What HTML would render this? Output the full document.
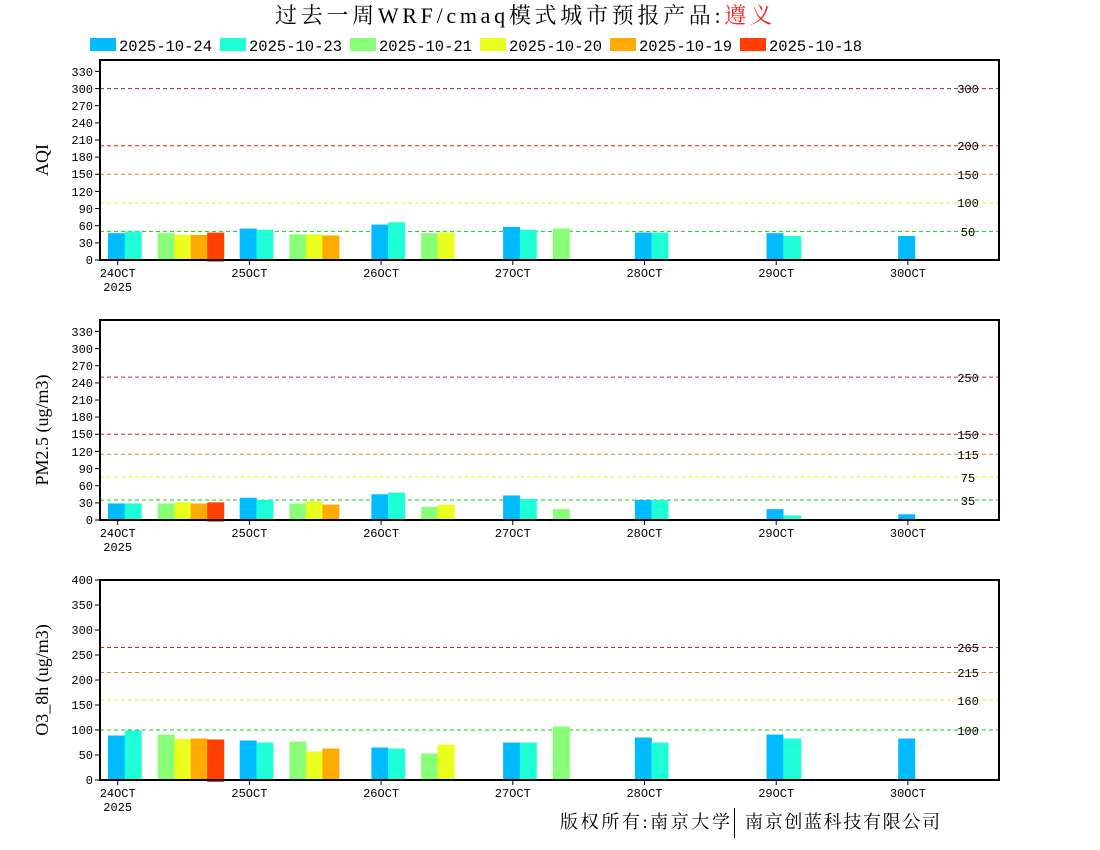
<!DOCTYPE html>
<html><head><meta charset="utf-8"><style>
body{margin:0;background:#fff}
svg{display:block}
.t{font-family:"Liberation Mono",monospace;font-size:12px;fill:#000}
.yl{font-family:"Liberation Serif","Noto Serif CJK SC",serif;font-size:18px;fill:#000}
.b{fill:#00bbff}.c{fill:#1effd8}.g{fill:#88ff77}.y{fill:#eaff1e}.o{fill:#ffaa00}.r{fill:#ff4000}
</style></head><body>
<svg width="1100" height="850" viewBox="0 0 1100 850" xmlns="http://www.w3.org/2000/svg">
<rect width="1100" height="850" fill="#fff"/>
<text x="275" y="23" font-family="Liberation Serif,'Noto Serif CJK SC',serif" font-size="22" fill="#000" textLength="497" lengthAdjust="spacing">过去一周WRF/cmaq模式城市预报产品:<tspan fill="#ff2020">遵义</tspan></text>
<!-- legend -->
<g class="t" style="font-size:15.5px">
<rect x="90" y="38" width="26" height="13" class="b"/><text x="119" y="51">2025-10-24</text>
<rect x="220" y="38" width="26" height="13" class="c"/><text x="249" y="51">2025-10-23</text>
<rect x="350" y="38" width="26" height="13" class="g"/><text x="379" y="51">2025-10-21</text>
<rect x="480" y="38" width="26" height="13" class="y"/><text x="509" y="51">2025-10-20</text>
<rect x="610" y="38" width="26" height="13" class="o"/><text x="639" y="51">2025-10-19</text>
<rect x="740" y="38" width="26" height="13" class="r"/><text x="769" y="51">2025-10-18</text>
</g>

<!-- PANEL 1 -->
<g stroke-width="1" stroke-dasharray="4,3">
<line x1="100" x2="1000" y1="88.6" y2="88.6" stroke="#c0105a"/>
<line x1="100" x2="1000" y1="145.7" y2="145.7" stroke="#ff1010"/>
<line x1="100" x2="1000" y1="174.3" y2="174.3" stroke="#f08020"/>
<line x1="100" x2="1000" y1="202.9" y2="202.9" stroke="#f0f020"/>
<line x1="100" x2="1000" y1="231.4" y2="231.4" stroke="#10d010"/>
</g>
<g transform="translate(0,260) scale(1,-0.5714)">
<rect x="108" width="17" height="47" class="b"/><rect x="124.7" width="17" height="50" class="c"/>
<rect x="157.7" width="17" height="47" class="g"/><rect x="174.2" width="17" height="44" class="y"/><rect x="190.7" width="17" height="44" class="o"/><rect x="207.2" y="-3" width="17" height="51" class="r"/>
<rect x="239.7" width="17" height="55" class="b"/><rect x="256.4" width="17" height="53" class="c"/>
<rect x="289.4" width="17" height="45" class="g"/><rect x="305.9" width="17" height="45" class="y"/><rect x="322.4" width="17" height="43" class="o"/>
<rect x="371.4" width="17" height="62" class="b"/><rect x="388.1" width="17" height="66" class="c"/>
<rect x="421.1" width="17" height="47" class="g"/><rect x="437.6" width="17" height="48" class="y"/>
<rect x="503.1" width="17" height="58" class="b"/><rect x="519.8" width="17" height="53" class="c"/>
<rect x="552.8" width="17" height="55" class="g"/>
<rect x="634.8" width="17" height="48" class="b"/><rect x="651.5" width="17" height="48" class="c"/>
<rect x="766.5" width="17" height="47" class="b"/><rect x="783.2" width="18" height="42" class="c"/>
<rect x="898.2" width="17" height="42" class="b"/>
</g>
<g class="t" text-anchor="middle">
<text x="968" y="93">300</text><text x="968" y="150">200</text><text x="968" y="179">150</text><text x="968" y="207">100</text><text x="968" y="236">50</text>
</g>
<rect x="100" y="60" width="899" height="200" fill="none" stroke="#000" stroke-width="2"/>
<g transform="translate(0,260)" class="t" text-anchor="end">
<g stroke="#000"><line x1="95" x2="100" y1="0" y2="0"/><line x1="95" x2="100" y1="-17.1" y2="-17.1"/><line x1="95" x2="100" y1="-34.3" y2="-34.3"/><line x1="95" x2="100" y1="-51.4" y2="-51.4"/><line x1="95" x2="100" y1="-68.6" y2="-68.6"/><line x1="95" x2="100" y1="-85.7" y2="-85.7"/><line x1="95" x2="100" y1="-102.9" y2="-102.9"/><line x1="95" x2="100" y1="-120" y2="-120"/><line x1="95" x2="100" y1="-137.1" y2="-137.1"/><line x1="95" x2="100" y1="-154.3" y2="-154.3"/><line x1="95" x2="100" y1="-171.4" y2="-171.4"/><line x1="95" x2="100" y1="-188.6" y2="-188.6"/></g>
<text x="93" y="4">0</text><text x="93" y="-13">30</text><text x="93" y="-30">60</text><text x="93" y="-47">90</text><text x="93" y="-64">120</text><text x="93" y="-82">150</text><text x="93" y="-99">180</text><text x="93" y="-116">210</text><text x="93" y="-133">240</text><text x="93" y="-150">270</text><text x="93" y="-167">300</text><text x="93" y="-184">330</text>
</g>
<g stroke="#000"><line x1="117.7" x2="117.7" y1="260" y2="265"/><line x1="249.4" x2="249.4" y1="260" y2="265"/><line x1="381.1" x2="381.1" y1="260" y2="265"/><line x1="512.8" x2="512.8" y1="260" y2="265"/><line x1="644.5" x2="644.5" y1="260" y2="265"/><line x1="776.2" x2="776.2" y1="260" y2="265"/><line x1="907.9" x2="907.9" y1="260" y2="265"/></g>
<g class="t" text-anchor="middle">
<text x="117.7" y="277">24OCT</text><text x="117.7" y="291">2025</text><text x="249.4" y="277">25OCT</text><text x="381.1" y="277">26OCT</text><text x="512.8" y="277">27OCT</text><text x="644.5" y="277">28OCT</text><text x="776.2" y="277">29OCT</text><text x="907.9" y="277">30OCT</text>
</g>
<text class="yl" transform="translate(48,160) rotate(-90)" text-anchor="middle">AQI</text>

<!-- PANEL 2 -->
<g stroke-width="1" stroke-dasharray="4,3">
<line x1="100" x2="1000" y1="377.1" y2="377.1" stroke="#e0107a"/>
<line x1="100" x2="1000" y1="434.3" y2="434.3" stroke="#d82020"/>
<line x1="100" x2="1000" y1="454.3" y2="454.3" stroke="#f08020"/>
<line x1="100" x2="1000" y1="477.1" y2="477.1" stroke="#f0f020"/>
<line x1="100" x2="1000" y1="500" y2="500" stroke="#10d010"/>
</g>
<g transform="translate(0,520) scale(1,-0.5714)">
<rect x="108" width="17" height="29" class="b"/><rect x="124.7" width="17" height="29" class="c"/>
<rect x="157.7" width="17" height="29" class="g"/><rect x="174.2" width="17" height="31" class="y"/><rect x="190.7" width="17" height="29" class="o"/><rect x="207.2" y="-3" width="17" height="34" class="r"/>
<rect x="239.7" width="17" height="39" class="b"/><rect x="256.4" width="17" height="35" class="c"/>
<rect x="289.4" width="17" height="29" class="g"/><rect x="305.9" width="17" height="33" class="y"/><rect x="322.4" width="17" height="27" class="o"/>
<rect x="371.4" width="17" height="45" class="b"/><rect x="388.1" width="17" height="48" class="c"/>
<rect x="421.1" width="17" height="23" class="g"/><rect x="437.6" width="17" height="27" class="y"/>
<rect x="503.1" width="17" height="43" class="b"/><rect x="519.8" width="17" height="37" class="c"/>
<rect x="552.8" width="17" height="19" class="g"/>
<rect x="634.8" width="17" height="35" class="b"/><rect x="651.5" width="17" height="35" class="c"/>
<rect x="766.5" width="17" height="19" class="b"/><rect x="783.2" width="18" height="8" class="c"/>
<rect x="898.2" width="17" height="10" class="b"/>
</g>
<g class="t" text-anchor="middle">
<text x="968" y="382">250</text><text x="968" y="439">150</text><text x="968" y="459">115</text><text x="968" y="482">75</text><text x="968" y="505">35</text>
</g>
<rect x="100" y="320" width="899" height="200" fill="none" stroke="#000" stroke-width="2"/>
<g transform="translate(0,520)" class="t" text-anchor="end">
<g stroke="#000"><line x1="95" x2="100" y1="0" y2="0"/><line x1="95" x2="100" y1="-17.1" y2="-17.1"/><line x1="95" x2="100" y1="-34.3" y2="-34.3"/><line x1="95" x2="100" y1="-51.4" y2="-51.4"/><line x1="95" x2="100" y1="-68.6" y2="-68.6"/><line x1="95" x2="100" y1="-85.7" y2="-85.7"/><line x1="95" x2="100" y1="-102.9" y2="-102.9"/><line x1="95" x2="100" y1="-120" y2="-120"/><line x1="95" x2="100" y1="-137.1" y2="-137.1"/><line x1="95" x2="100" y1="-154.3" y2="-154.3"/><line x1="95" x2="100" y1="-171.4" y2="-171.4"/><line x1="95" x2="100" y1="-188.6" y2="-188.6"/></g>
<text x="93" y="4">0</text><text x="93" y="-13">30</text><text x="93" y="-30">60</text><text x="93" y="-47">90</text><text x="93" y="-64">120</text><text x="93" y="-82">150</text><text x="93" y="-99">180</text><text x="93" y="-116">210</text><text x="93" y="-133">240</text><text x="93" y="-150">270</text><text x="93" y="-167">300</text><text x="93" y="-184">330</text>
</g>
<g stroke="#000"><line x1="117.7" x2="117.7" y1="520" y2="525"/><line x1="249.4" x2="249.4" y1="520" y2="525"/><line x1="381.1" x2="381.1" y1="520" y2="525"/><line x1="512.8" x2="512.8" y1="520" y2="525"/><line x1="644.5" x2="644.5" y1="520" y2="525"/><line x1="776.2" x2="776.2" y1="520" y2="525"/><line x1="907.9" x2="907.9" y1="520" y2="525"/></g>
<g class="t" text-anchor="middle">
<text x="117.7" y="537">24OCT</text><text x="117.7" y="551">2025</text><text x="249.4" y="537">25OCT</text><text x="381.1" y="537">26OCT</text><text x="512.8" y="537">27OCT</text><text x="644.5" y="537">28OCT</text><text x="776.2" y="537">29OCT</text><text x="907.9" y="537">30OCT</text>
</g>
<text class="yl" transform="translate(48,430) rotate(-90)" text-anchor="middle">PM2.5 (ug/m3)</text>

<!-- PANEL 3 -->
<g stroke-width="1" stroke-dasharray="4,3">
<line x1="100" x2="1000" y1="647.5" y2="647.5" stroke="#ff1010"/>
<line x1="100" x2="1000" y1="672.5" y2="672.5" stroke="#f08020"/>
<line x1="100" x2="1000" y1="700" y2="700" stroke="#f0f020"/>
<line x1="100" x2="1000" y1="730" y2="730" stroke="#10d010"/>
</g>
<g transform="translate(0,780) scale(1,-0.5)">
<rect x="108" width="17" height="89" class="b"/><rect x="124.7" width="17" height="99" class="c"/>
<rect x="157.7" width="17" height="91" class="g"/><rect x="174.2" width="17" height="82" class="y"/><rect x="190.7" width="17" height="83" class="o"/><rect x="207.2" y="-4" width="17" height="85" class="r"/>
<rect x="239.7" width="17" height="79" class="b"/><rect x="256.4" width="17" height="75" class="c"/>
<rect x="289.4" width="17" height="77" class="g"/><rect x="305.9" width="17" height="57" class="y"/><rect x="322.4" width="17" height="63" class="o"/>
<rect x="371.4" width="17" height="65" class="b"/><rect x="388.1" width="17" height="63" class="c"/>
<rect x="421.1" width="17" height="53" class="g"/><rect x="437.6" width="17" height="71" class="y"/>
<rect x="503.1" width="17" height="75" class="b"/><rect x="519.8" width="17" height="75" class="c"/>
<rect x="552.8" width="17" height="107" class="g"/>
<rect x="634.8" width="17" height="85" class="b"/><rect x="651.5" width="17" height="75" class="c"/>
<rect x="766.5" width="17" height="91" class="b"/><rect x="783.2" width="18" height="83" class="c"/>
<rect x="898.2" width="17" height="83" class="b"/>
</g>
<g class="t" text-anchor="middle">
<text x="968" y="652">265</text><text x="968" y="677">215</text><text x="968" y="705">160</text><text x="968" y="735">100</text>
</g>
<rect x="100" y="580" width="899" height="200" fill="none" stroke="#000" stroke-width="2"/>
<g transform="translate(0,780)" class="t" text-anchor="end">
<g stroke="#000"><line x1="95" x2="100" y1="0" y2="0"/><line x1="95" x2="100" y1="-25" y2="-25"/><line x1="95" x2="100" y1="-50" y2="-50"/><line x1="95" x2="100" y1="-75" y2="-75"/><line x1="95" x2="100" y1="-100" y2="-100"/><line x1="95" x2="100" y1="-125" y2="-125"/><line x1="95" x2="100" y1="-150" y2="-150"/><line x1="95" x2="100" y1="-175" y2="-175"/><line x1="95" x2="100" y1="-200" y2="-200"/></g>
<text x="93" y="4">0</text><text x="93" y="-21">50</text><text x="93" y="-46">100</text><text x="93" y="-71">150</text><text x="93" y="-96">200</text><text x="93" y="-121">250</text><text x="93" y="-146">300</text><text x="93" y="-171">350</text><text x="93" y="-196">400</text>
</g>
<g stroke="#000"><line x1="117.7" x2="117.7" y1="780" y2="785"/><line x1="249.4" x2="249.4" y1="780" y2="785"/><line x1="381.1" x2="381.1" y1="780" y2="785"/><line x1="512.8" x2="512.8" y1="780" y2="785"/><line x1="644.5" x2="644.5" y1="780" y2="785"/><line x1="776.2" x2="776.2" y1="780" y2="785"/><line x1="907.9" x2="907.9" y1="780" y2="785"/></g>
<g class="t" text-anchor="middle">
<text x="117.7" y="797">24OCT</text><text x="117.7" y="811">2025</text><text x="249.4" y="797">25OCT</text><text x="381.1" y="797">26OCT</text><text x="512.8" y="797">27OCT</text><text x="644.5" y="797">28OCT</text><text x="776.2" y="797">29OCT</text><text x="907.9" y="797">30OCT</text>
</g>
<text class="yl" transform="translate(48,680) rotate(-90)" text-anchor="middle">O3_8h (ug/m3)</text>

<!-- footer -->
<text x="560" y="828" font-family="Liberation Serif,'Noto Serif CJK SC',serif" font-size="18" fill="#000" textLength="170" lengthAdjust="spacing">版权所有:南京大学</text>
<line x1="734.5" x2="734.5" y1="808" y2="838" stroke="#000"/>
<text x="745" y="828" font-family="Liberation Serif,'Noto Serif CJK SC',serif" font-size="18" fill="#000" textLength="195" lengthAdjust="spacing">南京创蓝科技有限公司</text>
</svg>
</body></html>
